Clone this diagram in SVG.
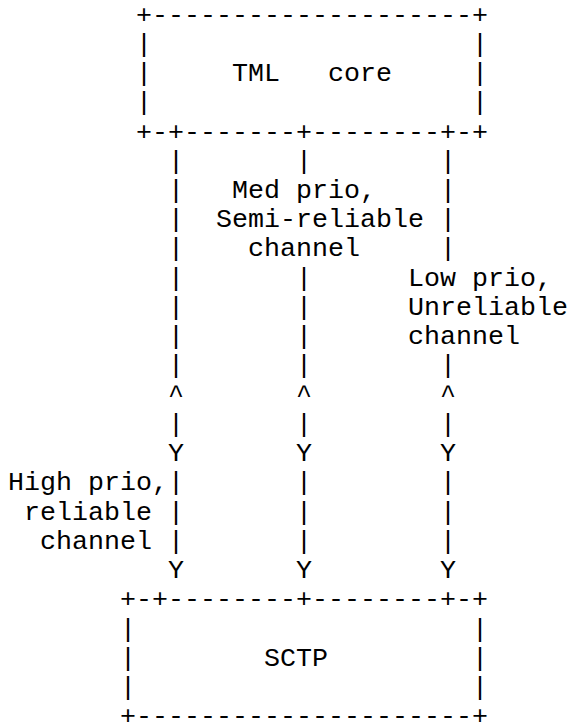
<svg xmlns="http://www.w3.org/2000/svg" width="573" height="726" viewBox="0 0 573 726">
<style>
text{font-family:"Liberation Mono","DejaVu Sans Mono",monospace;font-size:26.667px;fill:#000;white-space:pre}
</style>
<rect width="573" height="726" fill="#fff"/>
<g id="tml-core">
<text x="136" y="22.5">+--------------------+</text>
<text><tspan x="136" y="51.7">|</tspan><tspan x="472" y="51.7">|</tspan></text>
<text><tspan x="136" y="81">|</tspan><tspan x="232" y="81">TML</tspan><tspan x="328" y="81">core</tspan><tspan x="472" y="81">|</tspan></text>
<text><tspan x="136" y="110.2">|</tspan><tspan x="472" y="110.2">|</tspan></text>
<text x="136" y="139.5">+-+-------+--------+-+</text>
</g>
<g id="connectors">
<g id="high-prio-channel">
<text><tspan x="168" y="168.7">|</tspan><tspan x="168" y="197.9">|</tspan><tspan x="168" y="227.2">|</tspan><tspan x="168" y="256.4">|</tspan><tspan x="168" y="285.7">|</tspan><tspan x="168" y="314.9">|</tspan><tspan x="168" y="344.1">|</tspan><tspan x="168" y="373.4">|</tspan><tspan x="168" y="402.6">^</tspan><tspan x="168" y="431.9">|</tspan><tspan x="168" y="461.1">Y</tspan><tspan x="168" y="490.3">|</tspan><tspan x="168" y="519.6">|</tspan><tspan x="168" y="548.8">|</tspan><tspan x="168" y="578.1">Y</tspan></text>
<text><tspan x="8" y="490.3">High prio,</tspan><tspan x="24" y="519.6">reliable</tspan><tspan x="40" y="548.8">channel</tspan></text>
</g>
<g id="med-prio-channel">
<text><tspan x="296" y="168.7">|</tspan><tspan x="296" y="285.7">|</tspan><tspan x="296" y="314.9">|</tspan><tspan x="296" y="344.1">|</tspan><tspan x="296" y="373.4">|</tspan><tspan x="296" y="402.6">^</tspan><tspan x="296" y="431.9">|</tspan><tspan x="296" y="461.1">Y</tspan><tspan x="296" y="490.3">|</tspan><tspan x="296" y="519.6">|</tspan><tspan x="296" y="548.8">|</tspan><tspan x="296" y="578.1">Y</tspan></text>
<text><tspan x="232" y="197.9">Med prio,</tspan><tspan x="216" y="227.2">Semi-reliable</tspan><tspan x="248" y="256.4">channel</tspan></text>
</g>
<g id="low-prio-channel">
<text><tspan x="440" y="168.7">|</tspan><tspan x="440" y="197.9">|</tspan><tspan x="440" y="227.2">|</tspan><tspan x="440" y="256.4">|</tspan><tspan x="440" y="373.4">|</tspan><tspan x="440" y="402.6">^</tspan><tspan x="440" y="431.9">|</tspan><tspan x="440" y="461.1">Y</tspan><tspan x="440" y="490.3">|</tspan><tspan x="440" y="519.6">|</tspan><tspan x="440" y="548.8">|</tspan><tspan x="440" y="578.1">Y</tspan></text>
<text><tspan x="408" y="285.7">Low prio,</tspan><tspan x="408" y="314.9">Unreliable</tspan><tspan x="408" y="344.1">channel</tspan></text>
</g>
</g>
<g id="sctp">
<text x="120" y="607.3">+-+--------+--------+-+</text>
<text><tspan x="120" y="636.5">|</tspan><tspan x="472" y="636.5">|</tspan></text>
<text><tspan x="120" y="665.8">|</tspan><tspan x="264" y="665.8">SCTP</tspan><tspan x="472" y="665.8">|</tspan></text>
<text><tspan x="120" y="695">|</tspan><tspan x="472" y="695">|</tspan></text>
<text x="120" y="724.3">+---------------------+</text>
</g>
</svg>
